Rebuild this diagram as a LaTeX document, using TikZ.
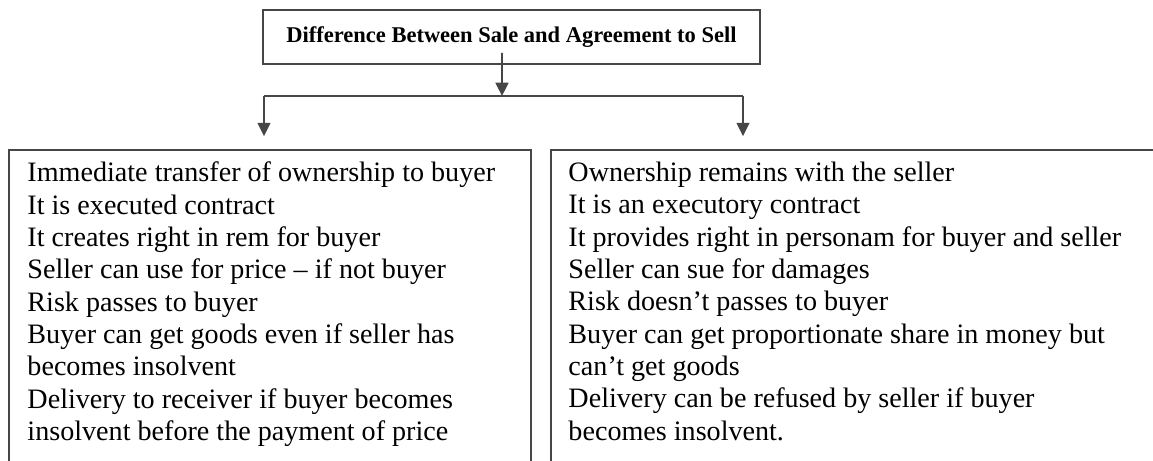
\documentclass[tikz,border=0pt]{standalone}
\usepackage{fontspec}
\setmainfont{Liberation Serif}
\usepackage{tikz}
\usetikzlibrary{arrows.meta, positioning, calc}
\definecolor{linegray}{RGB}{70, 70, 70}

\tikzset{
  headbox/.style={draw=linegray, line width=1pt, minimum width=9.94cm, minimum height=1.08cm, inner sep=0pt, font=\fontsize{12.8}{15}\selectfont\bfseries},
  listbox/.style={draw=linegray, line width=1pt, minimum height=6.52cm, inner sep=0pt},
  listtext/.style={anchor=north west, align=left, inner sep=0pt, font=\fontsize{16}{18.4}\selectfont},
  arrowline/.style={draw=linegray, line width=1pt, -{Triangle[width=7.4pt,length=7.6pt]}},
  plainline/.style={draw=linegray, line width=1pt}
}

\begin{document}
\begin{tikzpicture}
  \useasboundingbox (0,0) rectangle (23.06,9.22);
  \clip (0,0) rectangle (23.06,9.22);

  % Heading
  \node[headbox] (title) at (10.23, 8.48) {Difference Between Sale and Agreement to Sell};

  % Branch
  \coordinate (stem) at ([xshift=-0.19cm, yshift=0.24cm]title.south);
  \coordinate (branch) at (10.04, 7.30);
  \coordinate (lefttop) at (5.28, 7.30);
  \coordinate (righttop) at (14.86, 7.30);
  \draw[arrowline] (stem) -- (branch);
  \draw[plainline] (lefttop) -- (righttop);

  % Sale
  \node[listbox, minimum width=10.44cm] (leftbox) at (5.40, 2.96) {};
  \node[listtext] (lefttext) at ([xshift=0.38cm, yshift=-0.25cm]leftbox.north west) {
    Immediate transfer of ownership to buyer\\
    It is executed contract\\
    It creates right in rem for buyer\\
    Seller can use for price -- if not buyer\\
    Risk passes to buyer\\
    Buyer can get goods even if seller has\\
    becomes insolvent\\
    Delivery to receiver if buyer becomes\\
    insolvent before the payment of price
  };

  % Agreement to sell
  \node[listbox, minimum width=12.38cm] (rightbox) at (17.21, 2.96) {};
  \node[listtext] (righttext) at ([xshift=0.36cm, yshift=-0.25cm]rightbox.north west) {
    Ownership remains with the seller\\
    It is an executory contract\\
    It provides right in personam for buyer and seller\\
    Seller can sue for damages\\
    Risk doesn’t passes to buyer\\
    Buyer can get proportionate share in money but\\
    can’t get goods\\
    Delivery can be refused by seller if buyer\\
    becomes insolvent.
  };

  \draw[arrowline] (lefttop) -- ([yshift=0.26cm]lefttop |- leftbox.north);
  \draw[arrowline] (righttop) -- ([yshift=0.26cm]righttop |- rightbox.north);
\end{tikzpicture}
\end{document}
